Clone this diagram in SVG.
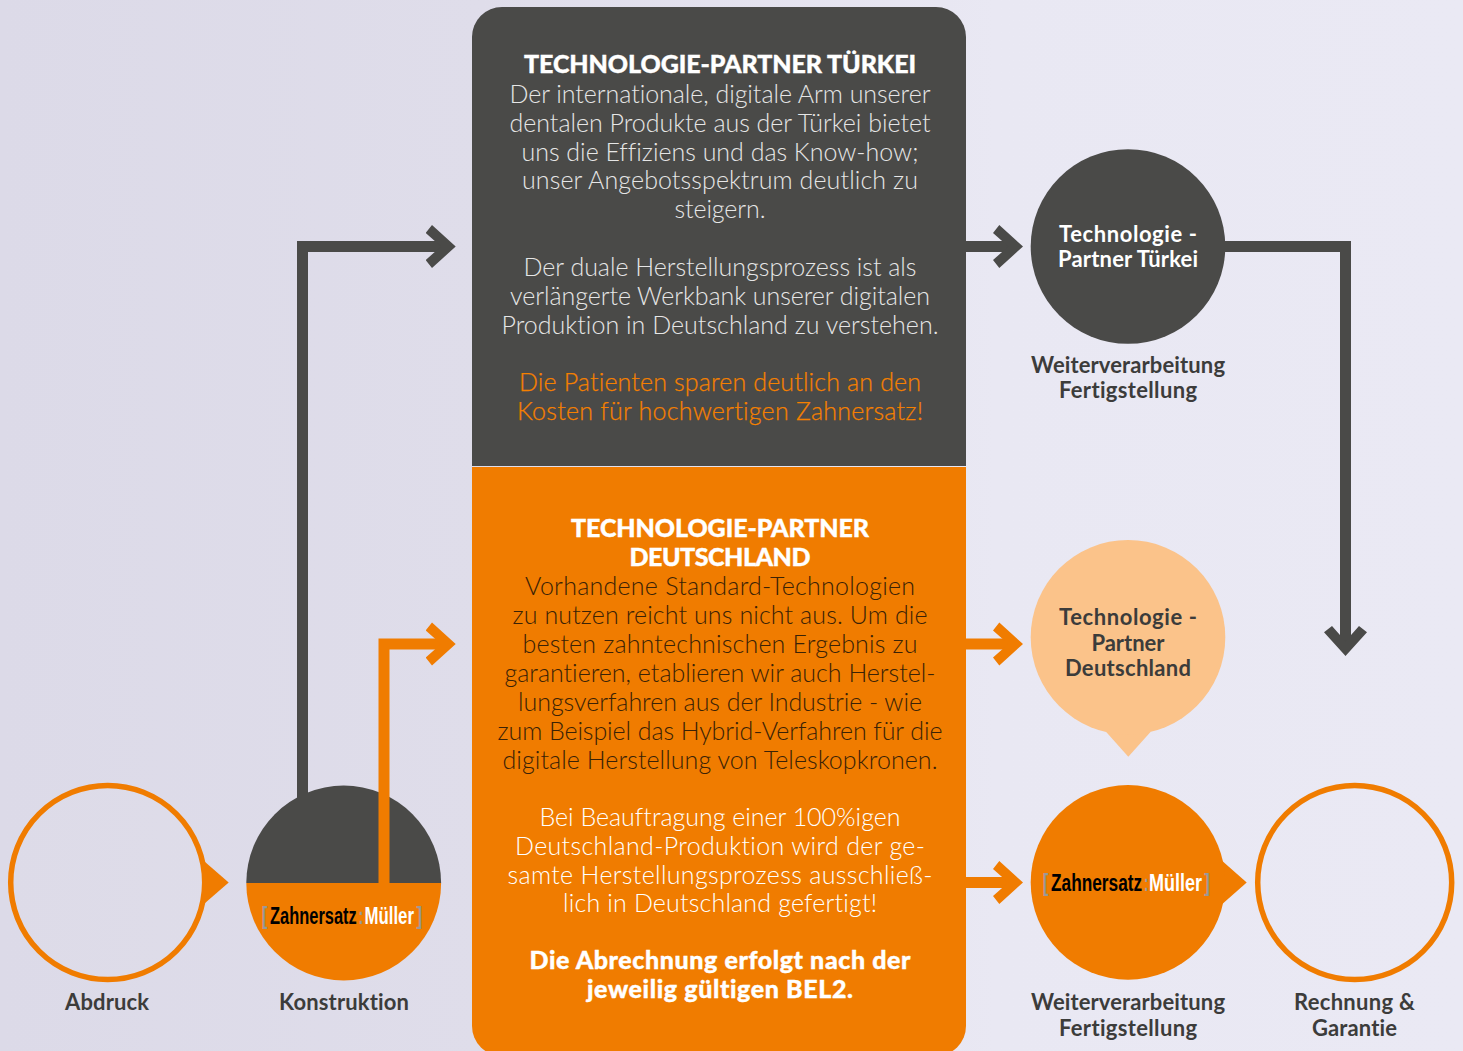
<svg xmlns="http://www.w3.org/2000/svg" width="1463" height="1051" viewBox="0 0 1463 1051">
<style>
text{font-family:"Lato","Liberation Sans",sans-serif;text-anchor:middle;font-variant-ligatures:none}
.b{font-size:25px;font-weight:300;fill:#e6e6e6}
.bd{font-size:25px;font-weight:300;fill:#3a2206}
.bw{font-size:25px;font-weight:300;fill:#fff}
.or{font-size:25px;font-weight:300;fill:#f58000;stroke:#f58000;stroke-width:.25}
.t{font-size:25px;font-weight:900;fill:#fff;stroke:#fff;stroke-width:.4}
.l{font-size:22px;font-weight:700;fill:#3c3c3b}
.lw{font-size:22px;font-weight:700;fill:#fff}
.logo{font-family:"Liberation Sans",sans-serif;font-weight:700;font-size:24px;text-anchor:start}
.k{fill:#000}.w{fill:#fff}.g{fill:#999}
.cd,.co{fill:none;stroke-width:11}
.cd{stroke:#4a4a48;marker-end:url(#ad)}
.co{stroke:#f07c00;marker-end:url(#ao)}
.ring{fill:#fff;fill-opacity:.03;stroke:#f07c00;stroke-width:5.5}
</style>
<defs>
<linearGradient id="bg" x1="0" y1="0" x2="1" y2="0"><stop offset="0" stop-color="#dcdae8"/><stop offset=".33" stop-color="#dfddea"/><stop offset=".68" stop-color="#e9e8f3"/><stop offset="1" stop-color="#eae9f4"/></linearGradient>
<marker id="ad" markerUnits="userSpaceOnUse" markerWidth="31" markerHeight="45" viewBox="0 0 31 45" refX="16" refY="22.5" orient="auto"><polygon fill="#4a4a48" points="30,22.5 6.3,1 0,9 15.3,22.5 0,36 6.3,44"/></marker>
<marker id="ao" markerUnits="userSpaceOnUse" markerWidth="31" markerHeight="45" viewBox="0 0 31 45" refX="16" refY="22.5" orient="auto"><polygon fill="#f07c00" points="30,22.5 6.3,1 0,9 15.3,22.5 0,36 6.3,44"/></marker>
</defs>
<rect width="1463" height="1051" fill="url(#bg)"/>
<g id="node-box-tuerkei">
<path d="M472,466V37a30,30 0 0 1 30,-30H936a30,30 0 0 1 30,30V466Z" fill="#4a4a48"/>
<text class="t" x="720" y="73" textLength="392">TECHNOLOGIE-PARTNER TÜRKEI</text>
<text class="b" x="720" y="102.5" textLength="421">Der internationale, digitale Arm unserer</text>
<text class="b" x="720" y="131.5" textLength="421">dentalen Produkte aus der Türkei bietet</text>
<text class="b" x="720" y="160.5" textLength="397">uns die Effiziens und das Know-how;</text>
<text class="b" x="720" y="189" textLength="396">unser Angebotsspektrum deutlich zu</text>
<text class="b" x="720" y="218" textLength="91">steigern.</text>
<text class="b" x="720" y="275.5" textLength="393">Der duale Herstellungsprozess ist als</text>
<text class="b" x="720" y="304.5" textLength="420">verlängerte Werkbank unserer digitalen</text>
<text class="b" x="720" y="333.5" textLength="437">Produktion in Deutschland zu verstehen.</text>
<text class="or" x="720" y="390.5" textLength="402">Die Patienten sparen deutlich an den</text>
<text class="or" x="720" y="419.5" textLength="406">Kosten für hochwertigen Zahnersatz!</text>
</g>
<g id="node-box-deutschland">
<path d="M472,467H966V1026a30,30 0 0 1 -30,30H502a30,30 0 0 1 -30,-30Z" fill="#f07c00"/>
<text class="t" x="720" y="537" textLength="298">TECHNOLOGIE-PARTNER</text>
<text class="t" x="720" y="566" textLength="181">DEUTSCHLAND</text>
<text class="bd" x="720" y="595" textLength="390">Vorhandene Standard-Technologien</text>
<text class="bd" x="720" y="624" textLength="415">zu nutzen reicht uns nicht aus. Um die</text>
<text class="bd" x="720" y="653" textLength="395">besten zahntechnischen Ergebnis zu</text>
<text class="bd" x="720" y="681.5" textLength="431">garantieren, etablieren wir auch Herstel-</text>
<text class="bd" x="720" y="710.5" textLength="404">lungsverfahren aus der Industrie - wie</text>
<text class="bd" x="720" y="739.5" textLength="445">zum Beispiel das Hybrid-Verfahren für die</text>
<text class="bd" x="720" y="768.5" textLength="435">digitale Herstellung von Teleskopkronen.</text>
<text class="bw" x="720" y="825.5" textLength="361">Bei Beauftragung einer 100%igen</text>
<text class="bw" x="720" y="854.5" textLength="410">Deutschland-Produktion wird der ge-</text>
<text class="bw" x="720" y="883.5" textLength="425">samte Herstellungsprozess ausschließ-</text>
<text class="bw" x="720" y="912" textLength="314">lich in Deutschland gefertigt!</text>
<text class="t" x="720" y="969" textLength="381">Die Abrechnung erfolgt nach der</text>
<text class="t" x="720" y="998" textLength="266">jeweilig gültigen BEL2.</text>
</g>
<g id="node-abdruck">
<path d="M204.5,861.5L228.7,882.5L204.5,903.5Z" fill="#f07c00"/>
<circle class="ring" cx="107.7" cy="882.5" r="97"/>
<text class="l" x="107" y="1009.5" textLength="84">Abdruck</text>
</g>
<g id="node-konstruktion">
<path d="M246.3,883A97.4,97.4 0 0 1 441.1,883Z" fill="#4a4a48"/>
<path d="M246.3,883A97.4,97.4 0 0 0 441.1,883Z" fill="#f07c00"/>
<text class="logo g" transform="translate(261.7 924) scale(.7 1)">[</text>
<text class="logo k" transform="translate(270 924) scale(.685 1)">Zahnersatz</text>
<text class="logo g" transform="translate(358.5 924) scale(.6 1)">:</text>
<text class="logo w" transform="translate(364.5 924) scale(.7 1)">Müller</text>
<text class="logo g" transform="translate(416.5 924) scale(.7 1)">]</text>
<text class="l" x="344" y="1009.5" textLength="130">Konstruktion</text>
</g>
<g id="node-tuerkei">
<circle cx="1128" cy="246.5" r="97.3" fill="#4a4a48"/>
<text class="lw" x="1128" y="241.5" textLength="138">Technologie -</text>
<text class="lw" x="1128" y="266.5" textLength="140">Partner Türkei</text>
<text class="l" x="1128" y="372.5" textLength="194">Weiterverarbeitung</text>
<text class="l" x="1128" y="397.5" textLength="138">Fertigstellung</text>
</g>
<g id="node-deutschland">
<path d="M1106,731.7L1128.3,756.7L1150.7,731.7Z" fill="#fbc38a"/>
<circle cx="1128" cy="637.3" r="97.3" fill="#fbc38a"/>
<text class="l" x="1128" y="624.5" textLength="138">Technologie -</text>
<text class="l" x="1128" y="650.5" textLength="73">Partner</text>
<text class="l" x="1128" y="675.5" textLength="126">Deutschland</text>
</g>
<g id="node-weiterverarbeitung">
<path d="M1222,860.7L1246.7,882.5L1222,904.3Z" fill="#f07c00"/>
<circle cx="1128" cy="882.4" r="97.3" fill="#f07c00"/>
<text class="logo g" transform="translate(1042.7 891) scale(.7 1)">[</text>
<text class="logo k" transform="translate(1051 891) scale(.72 1)">Zahnersatz</text>
<text class="logo g" transform="translate(1144 891) scale(.55 1)">:</text>
<text class="logo w" transform="translate(1149 891) scale(.75 1)">Müller</text>
<text class="logo g" transform="translate(1204.3 891) scale(.7 1)">]</text>
<text class="l" x="1128" y="1009.5" textLength="194">Weiterverarbeitung</text>
<text class="l" x="1128" y="1035.5" textLength="138">Fertigstellung</text>
</g>
<g id="node-rechnung">
<circle class="ring" cx="1354.7" cy="882.5" r="97"/>
<text class="l" x="1354.5" y="1009.5" textLength="121">Rechnung &amp;</text>
<text class="l" x="1354.5" y="1035.5" textLength="85">Garantie</text>
</g>
<g id="connectors">
<path class="cd" d="M302.5,800V246.5H441.7"/>
<path class="cd" d="M966,246.5H1009"/>
<path class="cd" d="M1224,246.5H1345.5V642"/>
<path class="co" d="M384,883V644H441.7"/>
<path class="co" d="M966,644H1009"/>
<path class="co" d="M966,882.5H1009"/>
</g>
</svg>
